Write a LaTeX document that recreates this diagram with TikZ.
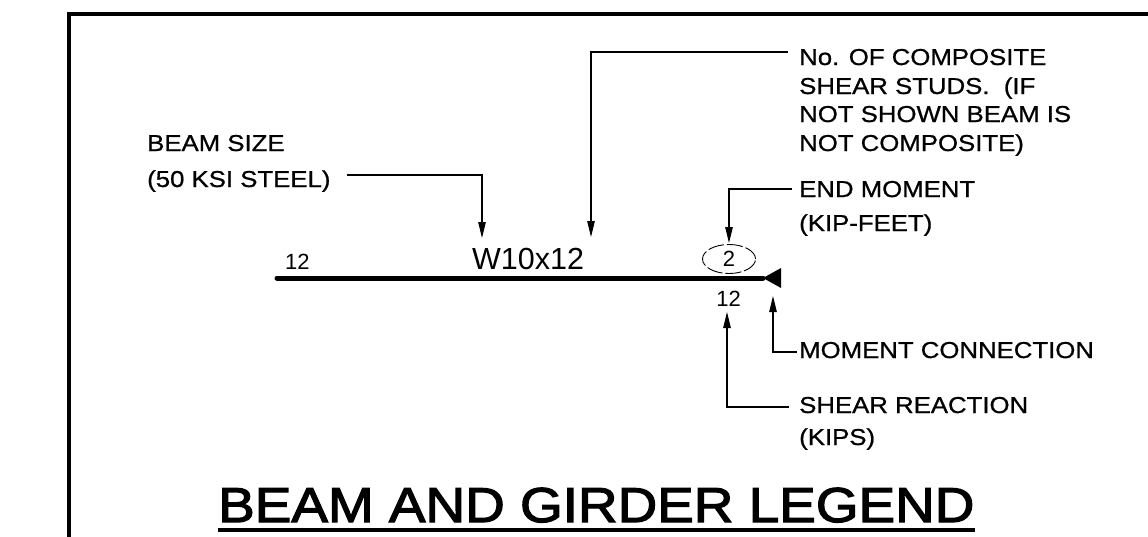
\documentclass[tikz,border=0pt]{standalone}
\usepackage{fontspec}
\setmainfont{Liberation Sans}
\newfontfamily\cadfont[FakeStretch=1.12,FakeBold=0.8]{Liberation Sans}
\newfontfamily\titlefont[FakeStretch=1.12,FakeBold=2.5]{Liberation Sans}
\usetikzlibrary{arrows.meta,shapes.geometric,positioning}

\begin{document}
\begin{tikzpicture}[x=1pt, y=-1pt,
	>={Triangle[length=16pt,width=7.5pt]},
	note/.style={font=\cadfont\fontsize{23}{28}\selectfont, anchor=base west,
		inner sep=0pt, text height=16pt, text depth=0pt},
	num/.style={font=\fontsize{22}{26}\selectfont, inner sep=0pt},
	leader/.style={line width=1.1pt},
	beam/.style={line width=5pt, line cap=round}]
	\useasboundingbox (0,0) rectangle (1148,536);
	% Draw the frame
	\draw[line width=4pt] (69,545) -- (69,14) -- (1155,14);
	% Draw the beam
	\coordinate (bstart) at (277,278);
	\coordinate (fix) at (763,278);
	\draw[beam] (bstart) -- (fix);
	\fill (fix) -- (781,268) -- (781,288) -- cycle;
	\node[num, anchor=base west] (left) at (285,269) {12};
	\node[font=\fontsize{30.5}{34}\selectfont, inner sep=0pt, anchor=base west] (size) at (472,269) {W10x12};
	\node[num, ellipse, draw, dash pattern=on 16pt off 3pt, line width=0.9pt,
		minimum width=53pt, minimum height=29pt] (endval) at (729,259) {2};
	\node[num, anchor=base] (react) at (728.5,306) {12};
	% Place the notes
	\node[note] (size1) at (147,151) {BEAM SIZE};
	\node[note, below=36pt of size1.base west, anchor=base west] (size2) {(50 KSI STEEL)};
	\node[note] (studs1) at (799,65) {No. OF COMPOSITE};
	\node[note, below=29pt of studs1.base west, anchor=base west] (studs2) {SHEAR STUDS.\ \ (IF};
	\node[note, below=28pt of studs2.base west, anchor=base west] (studs3) {NOT SHOWN BEAM IS};
	\node[note, below=29pt of studs3.base west, anchor=base west] (studs4) {NOT COMPOSITE)};
	\node[note] (endm) at (799,197) {END MOMENT};
	\node[note, below=34pt of endm.base west, anchor=base west] (kipft) {(KIP-FEET)};
	\node[note] (conn) at (799,358) {MOMENT CONNECTION};
	\node[note] (shear) at (799,413) {SHEAR REACTION};
	\node[note, below=32pt of shear.base west, anchor=base west] (kips) {(KIPS)};
	% Arrow tips
	\coordinate (sizetip) at (482,238);
	\coordinate (studtip) at (591,237);
	\coordinate (endtip) at (729,243);
	\coordinate (conntip) at (773,296);
	\coordinate (sheartip) at (727,312);
	% Connect the notes with leaders
	\draw[leader, ->] ([xshift=16pt,yshift=4pt]size2.east) -| (sizetip);
	\draw[leader, ->] ([xshift=-11pt,yshift=5pt]studs1.west) -| (studtip);
	\draw[leader, ->] ([xshift=-7pt]endm.west) -| (endtip);
	\draw[leader, <-] (conntip) |- ([xshift=-2pt,yshift=-2pt]conn.west);
	\draw[leader, <-] (sheartip) |- ([xshift=-10pt,yshift=-2pt]shear.west);
	% Title
	\node[note, font=\titlefont\fontsize{49}{56}\selectfont, text height=35pt] (title) at (218,522) {BEAM AND GIRDER LEGEND};
	\draw[line width=4pt] ([yshift=-8pt]title.base west) -- ([yshift=-8pt]title.base east);
\end{tikzpicture}
\end{document}
